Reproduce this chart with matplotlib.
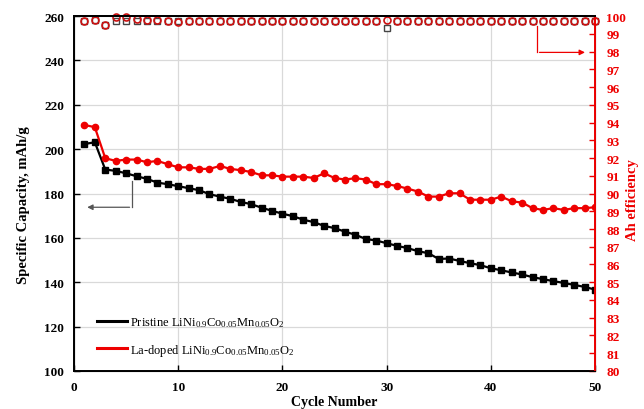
import matplotlib
matplotlib.use('Agg')
import matplotlib.pyplot as plt

plt.rcParams['font.family'] = ['Liberation Serif', 'DejaVu Serif']
plt.rcParams['mathtext.fontset'] = 'custom'
plt.rcParams['mathtext.rm'] = 'Liberation Serif'
plt.rcParams['mathtext.it'] = 'Liberation Serif:italic'

cycles = list(range(1, 51))

cap_pristine = [
    202.3, 203.1, 190.8, 190.2, 189.1, 187.8, 186.6, 184.9, 184.2, 183.3,
    182.4, 181.5, 179.7, 178.6, 177.6, 176.2, 175.2, 173.6, 172.2, 170.9,
    169.8, 168.2, 167.1, 165.4, 164.4, 162.8, 161.4, 159.5, 158.8, 157.6,
    156.4, 155.4, 154.0, 153.1, 150.5, 150.7, 149.6, 148.6, 147.7, 146.3,
    145.4, 144.4, 143.5, 142.3, 141.4, 140.5, 139.7, 138.8, 137.9, 136.7
]

cap_la = [
    210.9, 209.9, 195.9, 194.7, 195.3, 195.3, 194.1, 194.7, 193.2, 191.8,
    191.8, 191.1, 191.1, 192.4, 191.1, 190.5, 189.7, 188.2, 188.2, 187.6,
    187.6, 187.6, 187.0, 189.1, 187.0, 186.3, 186.9, 186.3, 184.2, 184.2,
    183.4, 182.2, 180.9, 178.6, 178.6, 180.1, 180.1, 177.2, 177.2, 177.2,
    178.6, 176.5, 175.9, 173.4, 172.6, 173.4, 172.6, 173.4, 173.4, 173.8
]

eff_pristine = [
    99.7, 99.8, 99.5, 99.7, 99.7, 99.7, 99.7, 99.7, 99.7, 99.7,
    99.7, 99.7, 99.7, 99.7, 99.7, 99.7, 99.7, 99.7, 99.7, 99.7,
    99.7, 99.7, 99.7, 99.7, 99.7, 99.7, 99.7, 99.7, 99.7, 99.35,
    99.7, 99.7, 99.7, 99.7, 99.7, 99.7, 99.7, 99.7, 99.7, 99.7,
    99.7, 99.7, 99.7, 99.7, 99.7, 99.7, 99.7, 99.7, 99.7, 99.7
]

eff_la = [
    99.7, 99.8, 99.5, 99.95, 99.95, 99.85, 99.8, 99.75, 99.7, 99.65,
    99.7, 99.7, 99.7, 99.7, 99.7, 99.7, 99.7, 99.7, 99.7, 99.7,
    99.7, 99.7, 99.7, 99.7, 99.7, 99.7, 99.7, 99.7, 99.7, 99.78,
    99.7, 99.7, 99.7, 99.7, 99.7, 99.7, 99.7, 99.7, 99.7, 99.7,
    99.7, 99.7, 99.7, 99.7, 99.7, 99.7, 99.7, 99.7, 99.7, 99.7
]

labels = [
    'Pristine LiNi$_{0.9}$Co$_{0.05}$Mn$_{0.05}$O$_2$',
    'La-doped LiNi$_{0.9}$Co$_{0.05}$Mn$_{0.05}$O$_2$'
]

red = '#ee0000'

fig = plt.figure(figsize=(6.44, 4.10), dpi=100)
ax = fig.add_axes([0.1149, 0.0927, 0.8091, 0.8658])
ax2 = ax.twinx()

ax.plot(cycles, cap_pristine, color='black', marker='s', markersize=4.5,
        linewidth=1.6, label=labels[0], zorder=3)
ax.plot(cycles, cap_la, color=red, marker='o', markersize=4.5,
        linewidth=1.6, label=labels[1], zorder=3)

ax2.plot(cycles, eff_pristine, linestyle='none', marker='s', markersize=5,
         markerfacecolor='white', markeredgecolor='#444444', markeredgewidth=1, clip_on=False)
ax2.plot(cycles, eff_la, linestyle='none', marker='o', markersize=5,
         markerfacecolor='none', markeredgecolor='#cc1111', markeredgewidth=1.2, clip_on=False)

ax.set_xlim(0, 50)
ax.set_ylim(100, 260)
ax2.set_ylim(80, 100)
ax.set_xticks(range(0, 51, 10))
ax.set_yticks(range(100, 261, 20))
ax2.set_yticks(range(80, 101, 1))

ax.grid(True, color='#d9d9d9', linewidth=0.9, zorder=0)
ax.set_axisbelow(True)

for lab in ax.get_xticklabels() + ax.get_yticklabels():
    lab.set_fontweight('bold')
for lab in ax2.get_yticklabels():
    lab.set_fontweight('bold')
    lab.set_color(red)

ax.tick_params(axis='both', direction='in', labelsize=9.5, length=4, width=1, pad=7)
ax2.tick_params(axis='y', direction='in', labelsize=9.5, length=4, width=1,
                colors=red, pad=8)

for s in ['left', 'bottom', 'top']:
    ax.spines[s].set_linewidth(1.4)
    ax.spines[s].set_color('black')
ax2.spines['right'].set_color(red)
ax2.spines['right'].set_linewidth(1.4)
ax2.spines['top'].set_linewidth(1.4)

ax.set_xlabel('Cycle Number', fontsize=10, fontweight='bold', labelpad=2)
ax.set_ylabel('Specific Capacity, mAh/g', fontsize=10.5, fontweight='bold', labelpad=10)
ax.yaxis.label.set_y(0.47)
ax2.set_ylabel('Ah efficiency', fontsize=10.5, fontweight='bold', color=red, labelpad=0)
ax2.yaxis.label.set_y(0.485)

leg = ax.legend(loc='lower left', bbox_to_anchor=(0.022, 0.006), frameon=False,
                fontsize=9, handlelength=2.4, handletextpad=0.25, labelspacing=1.0)
for line in leg.get_lines():
    line.set_marker('')
    line.set_linewidth(2.2)

# arrow pointing to the capacity axis
ax.plot([5.6, 5.6], [185.8, 173.8], color='#555555', linewidth=0.9, zorder=4)
ax.annotate('', xy=(1.0, 173.8), xytext=(5.6, 173.8),
            arrowprops=dict(arrowstyle='-|>', color='#555555', lw=0.9, mutation_scale=8))

# arrow pointing to the efficiency axis
ax2.plot([44.4, 44.4], [99.45, 97.95], color=red, linewidth=0.9)
ax2.annotate('', xy=(49.3, 97.95), xytext=(44.4, 97.95),
             arrowprops=dict(arrowstyle='-|>', color=red, lw=0.9, mutation_scale=8))

plt.savefig('out.png', dpi=100)
